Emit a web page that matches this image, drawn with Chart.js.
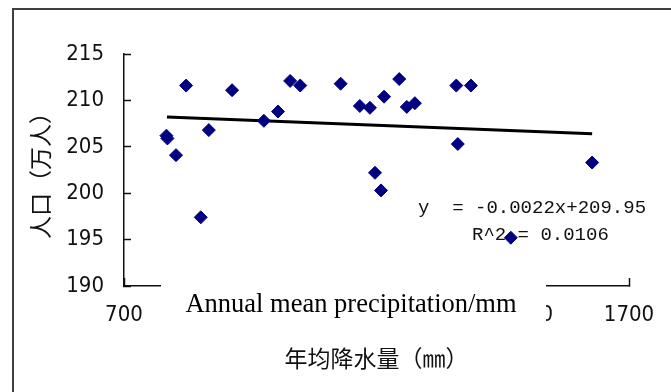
<!DOCTYPE html>
<html>
<head>
<meta charset="utf-8">
<script src="https://cdn.jsdelivr.net/npm/chart.js@4.4.0/dist/chart.umd.min.js"></script>
<style>
  html, body { margin: 0; padding: 0; background: #fff; overflow: hidden; }
  #wrap { position: relative; width: 671px; height: 392px; }
</style>
</head>
<body>
<div id="wrap"><canvas id="chart" width="671" height="392"></canvas></div>
<script>
// values
var precipitation = [784, 786, 803, 823, 852, 868, 914, 977, 1005, 1029, 1049, 1129, 1167, 1187,
                     1197, 1209, 1215, 1245, 1260, 1276, 1358, 1361, 1387, 1466, 1627];
var population    = [206.2, 205.9, 204.1, 211.6, 197.4, 206.8, 211.1, 207.8, 208.8, 212.1, 211.6, 211.8, 209.4, 209.2,
                     202.2, 200.3, 210.4, 212.3, 209.3, 209.7, 211.6, 205.3, 211.6, 195.2, 203.3];
var trendX = [785, 1627];
var trendY = [208.2, 206.4];
var xTicks = [700, 900, 1100, 1300, 1500, 1700];
var yTicks = [190, 195, 200, 205, 210, 215];
var xTitle = '年均降水量（㎜）';
var yTitle = '人口（万人）';
var boxLabel = 'Annual mean precipitation/mm';
var equationLines = ['y  = -0.0022x+209.95', 'R^2 = 0.0106'];

function toPoints(xs, ys) {
  return xs.map(function (x, i) { return { x: x, y: ys[i] }; });
}

var tickFont = { family: "'DejaVu Sans Condensed', sans-serif", size: 22 };
var cjkFont = { family: "'Noto Sans CJK SC', sans-serif", size: 23 };

// outer frame of the figure
var framePlugin = {
  id: 'frame',
  beforeDraw: function (chart) {
    var ctx = chart.ctx;
    ctx.save();
    ctx.strokeStyle = '#404040';
    ctx.lineWidth = 2;
    ctx.strokeRect(13, 9, 800, 600);
    ctx.restore();
  }
};

// regression text, drawn under the markers
var equationPlugin = {
  id: 'equation',
  beforeDatasetsDraw: function (chart) {
    var ctx = chart.ctx;
    ctx.save();
    ctx.fillStyle = '#111';
    ctx.font = "19px 'Liberation Mono', monospace";
    ctx.textBaseline = 'alphabetic';
    ctx.textAlign = 'left';
    ctx.fillText(equationLines[0], 418, 213);
    ctx.fillText(equationLines[1], 472, 240);
    ctx.restore();
  }
};

// white text box pasted over the x axis
var boxPlugin = {
  id: 'textBox',
  afterDraw: function (chart) {
    var ctx = chart.ctx;
    ctx.save();
    ctx.fillStyle = '#fff';
    ctx.fillRect(161, 275, 385, 62);
    ctx.fillStyle = '#000';
    ctx.font = "26.5px 'Liberation Serif', serif";
    ctx.textAlign = 'center';
    ctx.textBaseline = 'alphabetic';
    ctx.fillText(boxLabel, 351, 312);
    ctx.restore();
  }
};

new Chart(document.getElementById('chart'), {
  type: 'scatter',
  data: {
    datasets: [
      {
        label: 'population',
        data: toPoints(precipitation, population),
        pointStyle: 'rectRot',
        pointRadius: 6.5,
        pointHoverRadius: 6.5,
        backgroundColor: '#000080',
        borderColor: '#000080',
        borderWidth: 1
      },
      {
        label: 'trend',
        data: toPoints(trendX, trendY),
        showLine: true,
        borderColor: '#000',
        borderWidth: 3,
        pointRadius: 0
      }
    ]
  },
  options: {
    responsive: false,
    animation: false,
    devicePixelRatio: 1,
    layout: { padding: { top: 54, right: 42, left: 0, bottom: 0 } },
    plugins: {
      legend: { display: false },
      tooltip: { enabled: false }
    },
    scales: {
      x: {
        type: 'linear',
        min: xTicks[0],
        max: xTicks[xTicks.length - 1],
        ticks: {
          stepSize: xTicks[1] - xTicks[0], color: '#111', font: tickFont, padding: 24, maxRotation: 0,
          callback: function (v) { return String(v); }
        },
        grid: { drawOnChartArea: false, tickLength: -8, color: '#111', tickWidth: 1.5 },
        border: { color: '#111', width: 1.5 },
        title: { display: true, text: xTitle, color: '#111', font: cjkFont, padding: { top: 0, bottom: 20 } },
        afterFit: function (scale) {
          scale.height = 106;
          scale.paddingLeft = 0;
          scale.paddingRight = 0;
        }
      },
      y: {
        min: yTicks[0],
        max: yTicks[yTicks.length - 1],
        ticks: { stepSize: yTicks[1] - yTicks[0], color: '#111', font: tickFont, padding: 27 },
        grid: { drawOnChartArea: false, tickLength: -7, color: '#111', tickWidth: 1.5 },
        border: { color: '#111', width: 1.5 },
        title: { display: true, text: yTitle, color: '#111', font: cjkFont, padding: { top: 26, bottom: 0 } },
        afterFit: function (scale) {
          scale.width = 124;
          scale.paddingTop = 0;
          scale.paddingBottom = 0;
        }
      }
    }
  },
  plugins: [framePlugin, equationPlugin, boxPlugin]
});
</script>
</body>
</html>
